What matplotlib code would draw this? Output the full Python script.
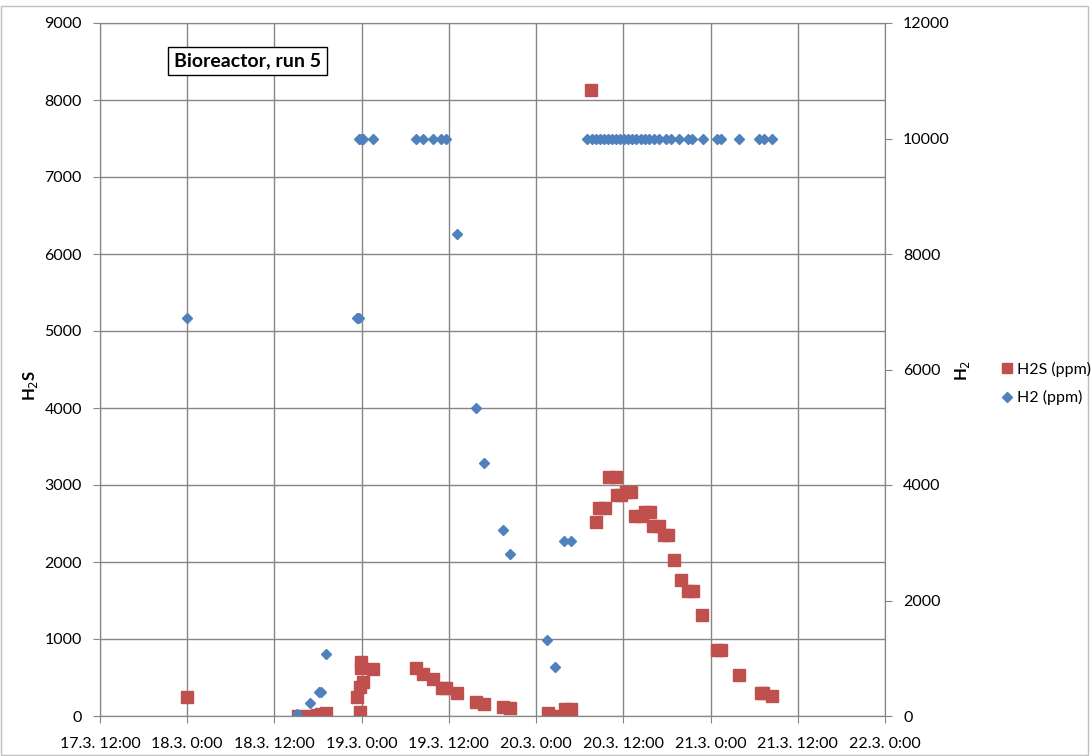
import pandas as pd
import matplotlib
matplotlib.use("Agg")
import matplotlib.pyplot as plt
import matplotlib.dates as mdates
from matplotlib.patches import Rectangle

plt.rcParams['font.family'] = ['Lato', 'DejaVu Sans']

# H2S samples (left axis, ppm)
h2s_times = ["18.3. 0:00", "18.3. 15:15", "18.3. 16:55", "18.3. 17:50", "18.3. 18:25", "18.3. 19:05",
             "18.3. 23:20", "18.3. 23:50", "18.3. 23:50", "18.3. 23:55", "18.3. 23:55", "19.3. 0:15",
             "19.3. 1:35", "19.3. 7:25", "19.3. 8:25", "19.3. 9:45", "19.3. 11:00", "19.3. 11:35",
             "19.3. 13:10", "19.3. 15:40", "19.3. 16:50", "19.3. 19:25", "19.3. 20:25", "20.3. 1:35",
             "20.3. 2:30", "20.3. 3:55", "20.3. 4:50", "20.3. 7:30", "20.3. 8:15", "20.3. 8:40",
             "20.3. 9:30", "20.3. 10:00", "20.3. 11:00", "20.3. 11:10", "20.3. 11:40", "20.3. 12:25",
             "20.3. 13:05", "20.3. 13:40", "20.3. 14:30", "20.3. 14:55", "20.3. 15:40", "20.3. 16:05",
             "20.3. 16:55", "20.3. 17:35", "20.3. 18:10", "20.3. 18:55", "20.3. 19:55", "20.3. 20:50",
             "20.3. 21:35", "20.3. 22:50", "21.3. 0:55", "21.3. 1:30", "21.3. 3:55", "21.3. 6:55",
             "21.3. 7:15", "21.3. 8:25"]
h2s_ppm = [250, 0, 5, 15, 25, 40,
           250, 375, 55, 700, 620, 445,
           610, 620, 545, 480, 365, 365,
           300, 180, 155, 115, 105, 40,
           0, 90, 90, 8130, 2520, 2700,
           2700, 3100, 3100, 2870, 2870, 2910,
           2910, 2600, 2600, 2650, 2650, 2470,
           2470, 2350, 2350, 2025, 1765, 1620,
           1620, 1310, 855, 855, 530, 300,
           300, 260]

# H2 samples (right axis, ppm)
h2_times = ["18.3. 0:00", "18.3. 15:10", "18.3. 16:55", "18.3. 18:10", "18.3. 18:25", "18.3. 19:05",
            "18.3. 23:20", "18.3. 23:40", "18.3. 23:35", "18.3. 23:55", "19.3. 0:15", "19.3. 1:35",
            "19.3. 7:25", "19.3. 8:25", "19.3. 9:45", "19.3. 10:55", "19.3. 11:35", "19.3. 13:05",
            "19.3. 15:40", "19.3. 16:50", "19.3. 19:25", "19.3. 20:25", "20.3. 1:30", "20.3. 2:35",
            "20.3. 3:50", "20.3. 4:50", "20.3. 7:00", "20.3. 7:40", "20.3. 8:15", "20.3. 8:45",
            "20.3. 9:20", "20.3. 9:55", "20.3. 10:25", "20.3. 11:00", "20.3. 11:30", "20.3. 12:05",
            "20.3. 12:35", "20.3. 13:10", "20.3. 13:45", "20.3. 14:25", "20.3. 15:00", "20.3. 15:30",
            "20.3. 16:10", "20.3. 16:55", "20.3. 17:55", "20.3. 18:35", "20.3. 19:40", "20.3. 20:50",
            "20.3. 21:30", "20.3. 22:55", "21.3. 0:50", "21.3. 1:30", "21.3. 3:55", "21.3. 6:40",
            "21.3. 7:25", "21.3. 8:25"]
h2_ppm = [6900, 30, 225, 415, 415, 1075,
          6900, 6900, 10000, 10000, 10000, 10000,
          10000, 10000, 10000, 10000, 10000, 8350,
          5330, 4380, 3220, 2800, 1320, 850,
          3030, 3030, 10000, 10000, 10000, 10000,
          10000, 10000, 10000, 10000, 10000, 10000,
          10000, 10000, 10000, 10000, 10000, 10000,
          10000, 10000, 10000, 10000, 10000, 10000,
          10000, 10000, 10000, 10000, 10000, 10000,
          10000, 10000]


def to_dt(labels):
    return pd.to_datetime(["2013 " + s for s in labels], format="%Y %d.%m. %H:%M")


t_h2s = to_dt(h2s_times)
t_h2 = to_dt(h2_times)

red = "#C0504D"
blue = "#4F81BD"
grid_c = "#868686"

fig = plt.figure(figsize=(10.91, 7.56), dpi=100)
ax = fig.add_axes([100 / 1091, 40 / 756, 785 / 1091, 693 / 756])
ax2 = ax.twinx()

l1, = ax.plot(t_h2s, h2s_ppm, ls="none", marker="s", ms=8.5, color=red, label="H2S (ppm)")
l2, = ax2.plot(t_h2, h2_ppm, ls="none", marker="D", ms=5.5, color=blue, label="H2 (ppm)")

ax.set_xlim(pd.Timestamp("2013-03-17 12:00"), pd.Timestamp("2013-03-22 00:00"))
ax.set_ylim(0, 9000)
ax2.set_ylim(0, 12000)
ax.set_yticks(range(0, 9001, 1000))
ax2.set_yticks(range(0, 12001, 2000))

ax.xaxis.set_major_locator(mdates.HourLocator(byhour=[0, 12]))
ax.xaxis.set_major_formatter(plt.FuncFormatter(
    lambda v, p: (lambda d: f"{d.day}.{d.month}. {d.hour}:{d.minute:02d}")(mdates.num2date(v))))

ax.grid(True, color=grid_c, lw=1)
ax.set_axisbelow(True)
for a in (ax, ax2):
    for s in a.spines.values():
        s.set_color(grid_c)
    a.tick_params(colors=grid_c, labelcolor="black", labelsize=11.5, length=5)
ax.tick_params(axis="x", pad=10)
ax.tick_params(axis="y", pad=8)
ax2.tick_params(axis="y", pad=8)

# axis titles placed directly in figure coordinates
fig.text(30 / 1091, 1 - 385 / 756, "H$_2$S", rotation=90, ha="center", va="center",
         fontsize=12, fontweight="bold")
fig.text(963 / 1091, 1 - 370 / 756, "H$_2$", rotation=90, ha="center", va="center",
         fontsize=12, fontweight="bold")

ax.text(0.188, 0.945, "Bioreactor, run 5", transform=ax.transAxes, ha="center", va="center",
        fontsize=14, fontweight="bold",
        bbox=dict(boxstyle="square,pad=0.3", fc="white", ec="black", lw=1))

fig.legend(handles=[l1, l2], loc="center left", bbox_to_anchor=(988 / 1091, 0.493),
           frameon=False, fontsize=11.5, handletextpad=0.1, labelspacing=0.85,
           handlelength=1.0, markerscale=0.9, borderpad=0.2)

fig.add_artist(Rectangle((0.001, 0.001), 0.996, 0.991, transform=fig.transFigure,
                         fill=False, ec="#BFBFBF", lw=1))

fig.savefig("out.png", dpi=100)
